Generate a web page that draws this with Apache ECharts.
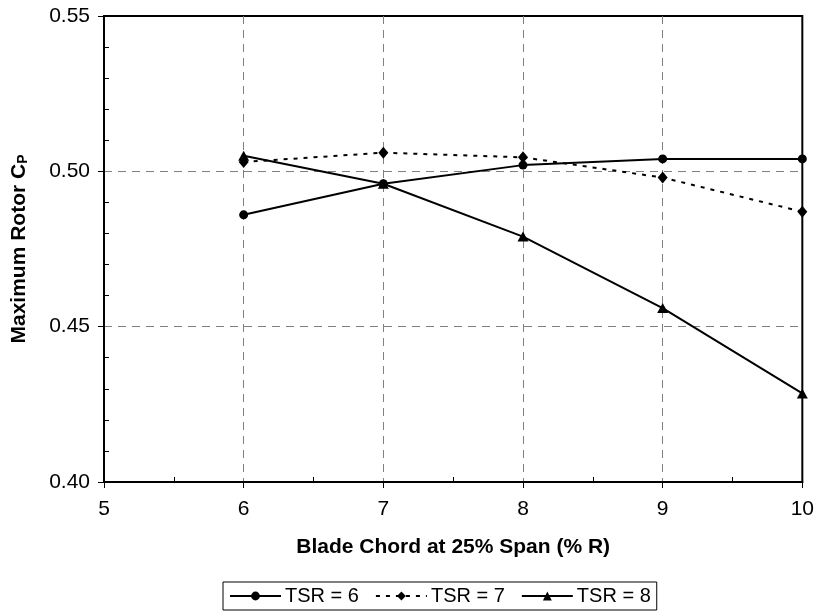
<!DOCTYPE html>
<html>
<head>
<meta charset="utf-8">
<script src="https://cdn.jsdelivr.net/npm/echarts@6/dist/echarts.min.js"></script>
<style>
  html, body { margin: 0; padding: 0; background: #fff; }
  #chart-container { width: 817px; height: 613px; }
</style>
</head>
<body>
<div id="chart-container"></div>
<script>
var dom = document.getElementById('chart-container');
var myChart = echarts.init(dom, null, { renderer: 'canvas' });

// blade chord at 25% span (% R)
var chord = [6, 7, 8, 9, 10];
// maximum rotor Cp for each tip speed ratio
var tsr6 = [0.486, 0.496, 0.502, 0.504, 0.504];
var tsr7 = [0.503, 0.506, 0.5045, 0.498, 0.487];
var tsr8 = [0.505, 0.496, 0.479, 0.456, 0.4285];
var seriesNames = ['TSR = 6', 'TSR = 7', 'TSR = 8'];
// minor tick positions (drawn inward)
var xMinor = [5.5, 6.5, 7.5, 8.5, 9.5];
var yMinor = [0.41, 0.42, 0.43, 0.44, 0.46, 0.47, 0.48, 0.49, 0.51, 0.52, 0.53, 0.54];

var font = 'Arial, "Liberation Sans", sans-serif';

function pairs(vals) {
  return chord.map(function (c, i) { return [c, vals[i]]; });
}

var option = {
  animation: false,
  textStyle: { fontFamily: font, color: '#000' },
  grid: {
    left: 104, right: 13, top: 16, bottom: 131,
    show: true, borderColor: '#000', borderWidth: 2, backgroundColor: 'transparent'
  },
  legend: {
    left: 223, top: 582,
    padding: [4, 6],
    itemGap: 16,
    itemWidth: 51, itemHeight: 11,
    borderColor: '#000', borderWidth: 1,
    textStyle: { fontSize: 20, fontFamily: font, color: '#000', padding: [0, 0, 0, -1] },
    data: seriesNames
  },
  xAxis: [
    {
      type: 'value', min: 5, max: 10, interval: 1,
      name: 'Blade Chord at 25% Span (% R)',
      nameLocation: 'middle', nameGap: 55,
      nameTextStyle: { fontSize: 21, fontWeight: 'bold', fontFamily: font, color: '#000' },
      axisLine: { show: true, onZero: false, lineStyle: { color: '#000', width: 2 } },
      axisTick: { show: true, inside: false, length: 6, lineStyle: { color: '#000', width: 1 } },
      axisLabel: { fontSize: 21, color: '#000', margin: 17, fontFamily: font },
      splitLine: { show: true, showMinLine: false, showMaxLine: false, lineStyle: { color: '#808080', type: [8, 6], width: 1 } }
    },
    {
      type: 'value', min: 5, max: 10, position: 'bottom',
      axisLine: { show: false },
      axisTick: { show: true, inside: true, length: 5, customValues: xMinor, lineStyle: { color: '#000', width: 1 } },
      axisLabel: { show: false },
      splitLine: { show: false }
    }
  ],
  yAxis: [
    {
      type: 'value', min: 0.40, max: 0.55, interval: 0.05,
      name: 'Maximum Rotor C{sub|P}',
      nameLocation: 'middle', nameGap: 74,
      nameTextStyle: {
        fontSize: 21, fontWeight: 'bold', fontFamily: font, color: '#000',
        rich: { sub: { fontSize: 14, fontWeight: 'bold', fontFamily: font, color: '#000', verticalAlign: 'bottom', padding: [8, 0, 0, 0] } }
      },
      axisLine: { show: true, onZero: false, lineStyle: { color: '#000', width: 2 } },
      axisTick: { show: true, inside: false, length: 6, lineStyle: { color: '#000', width: 1 } },
      axisLabel: {
        fontSize: 21, color: '#000', margin: 14, fontFamily: font,
        formatter: function (v) { return v.toFixed(2); }
      },
      splitLine: { show: true, showMinLine: false, showMaxLine: false, lineStyle: { color: '#808080', type: [8, 6], width: 1 } }
    },
    {
      type: 'value', min: 0.40, max: 0.55, position: 'left',
      axisLine: { show: false },
      axisTick: { show: true, inside: true, length: 5, customValues: yMinor, lineStyle: { color: '#000', width: 1 } },
      axisLabel: { show: false },
      splitLine: { show: false }
    }
  ],
  series: [
    {
      name: seriesNames[0], type: 'line',
      symbol: 'circle', symbolSize: 9,
      itemStyle: { color: '#000' },
      lineStyle: { color: '#000', width: 2 },
      data: pairs(tsr6)
    },
    {
      name: seriesNames[1], type: 'line',
      symbol: 'diamond', symbolSize: [10, 12],
      itemStyle: { color: '#000' },
      lineStyle: { color: '#000', width: 2, type: [4, 6] },
      data: pairs(tsr7)
    },
    {
      name: seriesNames[2], type: 'line',
      symbol: 'triangle', symbolSize: [11, 10],
      itemStyle: { color: '#000' },
      lineStyle: { color: '#000', width: 2 },
      data: pairs(tsr8)
    }
  ]
};

myChart.setOption(option);
</script>
</body>
</html>
